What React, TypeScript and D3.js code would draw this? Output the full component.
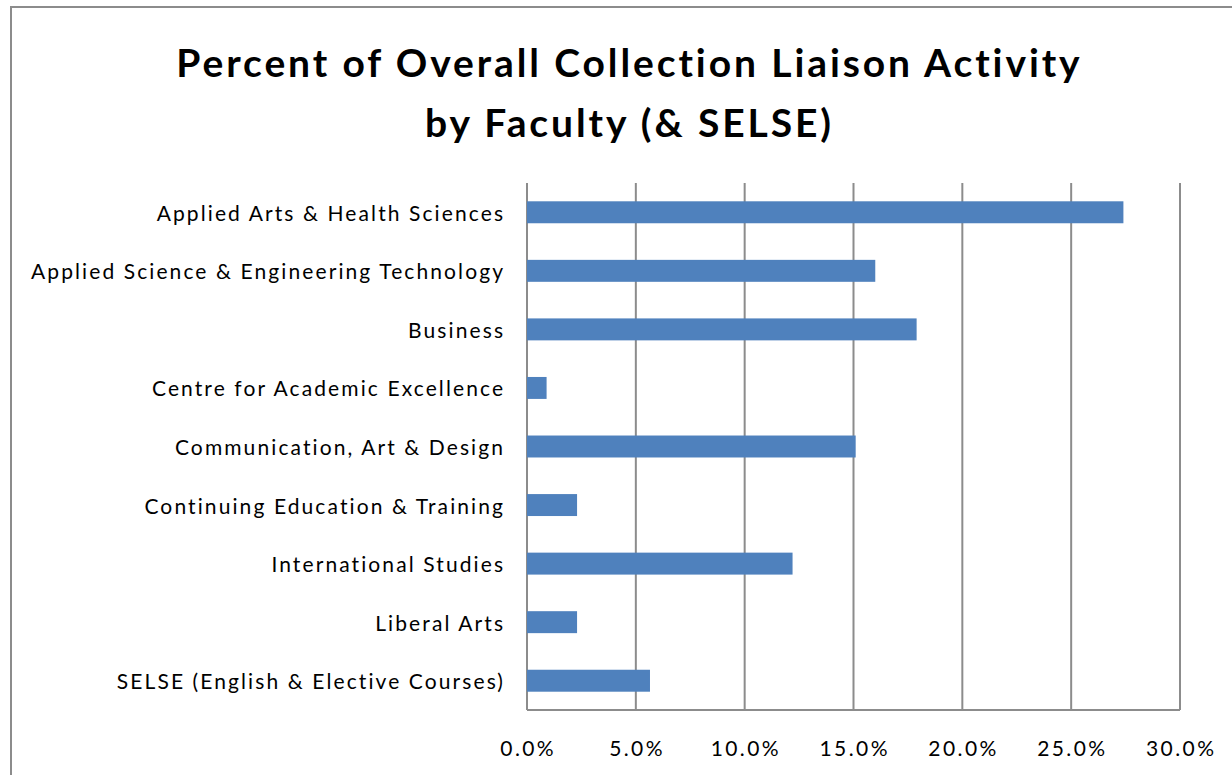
import React, { useEffect, useRef } from "react";
import * as d3 from "d3";

const categories = [
  "Applied Arts & Health Sciences",
  "Applied Science & Engineering Technology",
  "Business",
  "Centre for Academic Excellence",
  "Communication, Art & Design",
  "Continuing Education & Training",
  "International Studies",
  "Liberal Arts",
  "SELSE (English & Elective Courses)",
];
const values = [27.4, 16.0, 17.9, 0.9, 15.1, 2.3, 12.2, 2.3, 5.65];
const tickValues = [0, 5, 10, 15, 20, 25, 30];
const titleLines = ["Percent of Overall Collection Liaison Activity", "by Faculty (& SELSE)"];

const W = 1232;
const H = 775;
const FONT = "Lato, 'Open Sans', sans-serif";

export default function App() {
  const ref = useRef<SVGSVGElement>(null);
  useEffect(() => {
    const svg = d3.select(ref.current);
    svg.selectAll("*").remove();
    svg.append("rect").attr("width", W).attr("height", H).attr("fill", "#fff");
    svg.append("rect")
      .attr("x", 11).attr("y", 7).attr("width", W + 20).attr("height", H + 20)
      .attr("fill", "none").attr("stroke", "#8c8c8c").attr("stroke-width", 2);

    const x = d3.scaleLinear().domain([0, 30]).range([527, 1180]);
    const y = d3.scaleBand().domain(categories).range([183, 710]).paddingInner(0.625).paddingOuter(0.3125);

    const g = svg.append("g");
    g.selectAll("line.grid").data(tickValues).join("line")
      .attr("x1", d => x(d)).attr("x2", d => x(d))
      .attr("y1", 183).attr("y2", 710)
      .attr("stroke", "#8c8c8c").attr("stroke-width", 2);
    g.append("line").attr("x1", x(0)).attr("x2", x(30)).attr("y1", 710).attr("y2", 710)
      .attr("stroke", "#8c8c8c").attr("stroke-width", 2);

    g.selectAll("rect.bar").data(values).join("rect")
      .attr("x", x(0))
      .attr("y", (_, i) => y(categories[i])!)
      .attr("width", d => x(d) - x(0))
      .attr("height", y.bandwidth())
      .attr("fill", "#4f81bd");

    const labLs = 2.1;
    g.selectAll("text.cat").data(categories).join("text")
      .attr("x", 503 + labLs).attr("y", d => y(d)! + y.bandwidth() / 2)
      .attr("text-anchor", "end").attr("dominant-baseline", "central")
      .attr("font-family", FONT).attr("font-size", 21).attr("fill", "#000")
      .attr("letter-spacing", labLs)
      .text(d => d);

    const tickLs = 2.4;
    g.selectAll("text.tick").data(tickValues).join("text")
      .attr("x", d => x(d) + tickLs / 2).attr("y", 747)
      .attr("text-anchor", "middle").attr("dominant-baseline", "central")
      .attr("font-family", FONT).attr("font-size", 21).attr("fill", "#000")
      .attr("letter-spacing", tickLs)
      .text(d => d3.format(".1f")(d) + "%");

    const titleLs = 2.9;
    svg.selectAll("text.title").data(titleLines).join("text")
      .attr("x", 628 + titleLs / 2).attr("y", (_, i) => 62 + i * 60)
      .attr("text-anchor", "middle").attr("dominant-baseline", "central")
      .attr("font-family", FONT).attr("font-weight", "bold").attr("font-size", 39).attr("fill", "#000")
      .attr("letter-spacing", titleLs)
      .text(d => d);
  }, []);
  return (
    <svg ref={ref} width={W} height={H} style={{ position: "absolute", left: 0, top: 0 }} />
  );
}
